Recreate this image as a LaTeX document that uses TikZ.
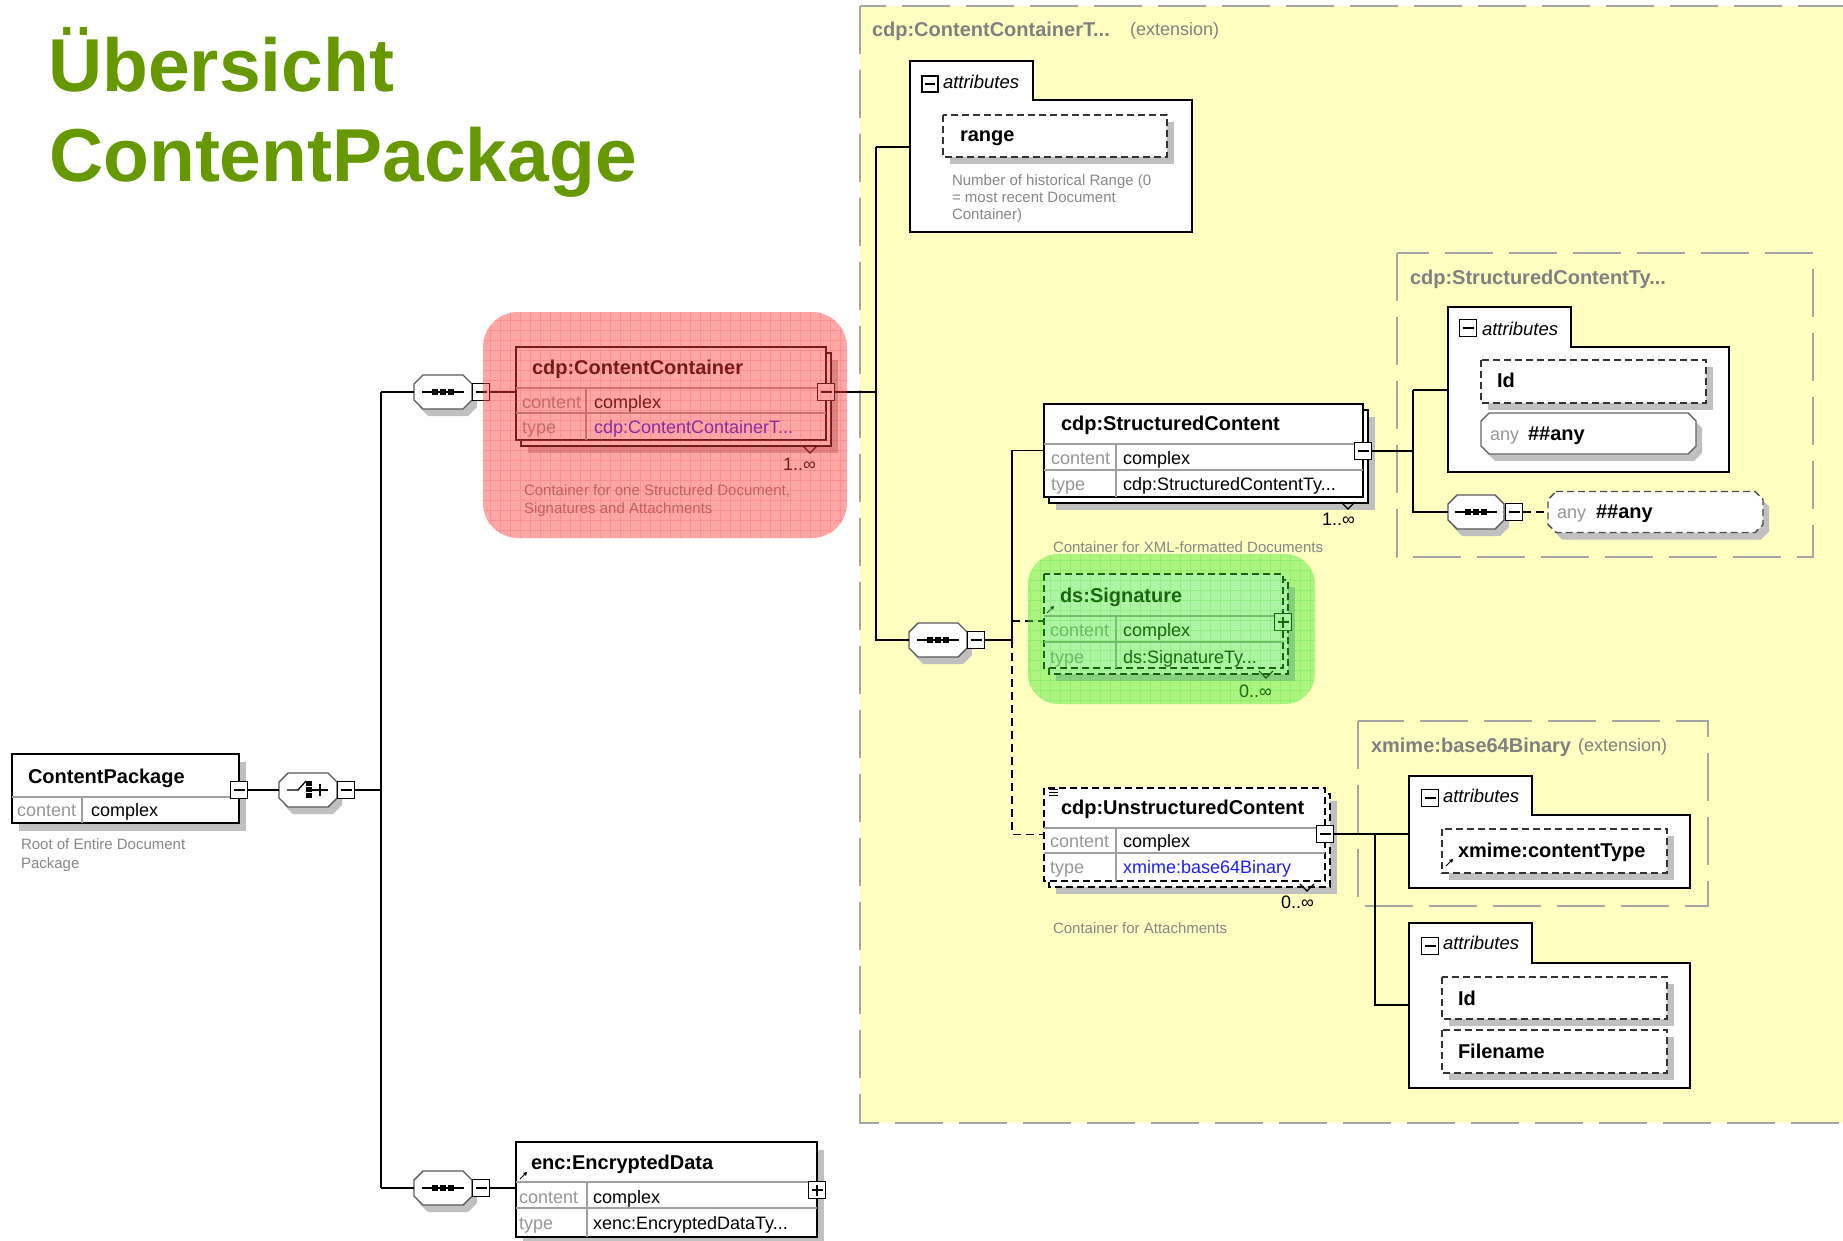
\documentclass[tikz,border=0pt]{standalone}
\usepackage{fontspec}
\setmainfont{Liberation Sans}
\usetikzlibrary{arrows.meta}

\definecolor{titlegreen}{RGB}{102,153,0}
\definecolor{paleyellow}{RGB}{255,255,194}
\definecolor{framegray}{RGB}{165,165,165}
\definecolor{labelgray}{RGB}{128,128,128}
\definecolor{keygray}{RGB}{150,150,150}
\definecolor{descgray}{RGB}{135,135,135}
\definecolor{rulegray}{RGB}{160,160,160}
\definecolor{shadowgray}{RGB}{192,192,192}
\definecolor{typeblue}{RGB}{30,30,255}
\definecolor{hired}{RGB}{255,60,60}
\definecolor{higreen}{RGB}{60,230,40}

\newcommand\fhead{\fontsize{20}{24}\selectfont\bfseries}
\newcommand\frow{\fontsize{18}{22}\selectfont}
\newcommand\fdesc{\fontsize{15}{18}\selectfont}
\newcommand\fital{\fontsize{18.5}{22}\selectfont\itshape}
\newcommand\ftitle{\fontsize{75}{90}\selectfont\bfseries}

\tikzset{
  hold/.style={anchor=north west, inner sep=0pt, outer sep=0pt, draw=none},
  octhold/.style={inner sep=0pt, outer sep=0pt, minimum width=58pt, minimum height=34pt},
  boxline/.style={line width=1.6pt, draw=black},
  optbox/.style={dash pattern=on 7pt off 4pt},
  rule/.style={line width=1.2pt, draw=rulegray},
  conn/.style={line width=1.6pt, draw=black},
  optconn/.style={conn, dash pattern=on 8pt off 5pt},
  shadowone/.style={fill=shadowgray, draw=none, transform canvas={shift={(7pt,-8pt)}}},
  shadowtwo/.style={fill=shadowgray, draw=none, transform canvas={shift={(12pt,-13pt)}}},
  stackback/.style={transform canvas={shift={(5pt,-6pt)}}},
  txt/.style={anchor=base west, inner sep=0pt, outer sep=0pt},
  head/.style={txt, font=\fhead},
  key/.style={txt, font=\frow, text=keygray},
  val/.style={txt, font=\frow},
  desc/.style={txt, font=\fdesc, text=descgray},
  attrname/.style={txt, font=\fhead},
  tabtitle/.style={txt, font=\fital},
  reglabel/.style={txt, font=\fhead, text=labelgray},
  regext/.style={txt, font=\frow, text=labelgray},
  regframe/.style={draw=framegray, line width=1.5pt, dash pattern=on 48pt off 16pt},
  mbox/.style={draw=black, fill=white, line width=1.6pt, minimum size=17pt, inner sep=0pt,
    path picture={\draw[line width=1.3pt] ([xshift=3pt]path picture bounding box.west) -- ([xshift=-3pt]path picture bounding box.east);}},
  pbox/.style={draw=black, fill=white, line width=1.6pt, minimum size=17pt, inner sep=0pt,
    path picture={\draw[line width=1.3pt] ([xshift=3pt]path picture bounding box.west) -- ([xshift=-3pt]path picture bounding box.east);
      \draw[line width=1.3pt] ([yshift=-3pt]path picture bounding box.north) -- ([yshift=3pt]path picture bounding box.south);}},
  refarrow/.style={line width=1pt, -{Triangle[length=3.5pt,width=4pt]}},
}

% octagon (chamfered box) around a holder node
\newcommand\octo[3]{%
  \path[#3] ([shift={(#2,0)}]#1.north west) -- ([shift={(-#2,0)}]#1.north east)
    -- ([shift={(0,#2)}]#1.north east) -- ([shift={(0,-#2)}]#1.south east)
    -- ([shift={(-#2,0)}]#1.south east) -- ([shift={(#2,0)}]#1.south west)
    -- ([shift={(0,-#2)}]#1.south west) -- ([shift={(0,#2)}]#1.north west) -- cycle;}

% compositor octagon with shadow
\newcommand\compositor[1]{%
  \octo{#1}{9}{fill=shadowgray, transform canvas={shift={(5pt,-7pt)}}}
  \octo{#1}{9}{fill=white, draw=black!65, line width=1.4pt}}

% sequence symbol
\newcommand\seqsym[1]{%
  \draw[line width=1.3pt] ([xshift=-21pt]#1.center) -- ([xshift=21pt]#1.center);
  \foreach \dx in {-8,0,8}
    \fill ([shift={(\dx-3,-3)}]#1.center) rectangle ([shift={(\dx+3,3)}]#1.center);}

% attribute group with a tab
\newcommand\attrtab[6]{%
  \filldraw[fill=white, boxline] (#1,#2) -- (#3,#2) -- (#3,#4) -- (#5,#4) -- (#5,#6) -- (#1,#6) -- cycle;}

% optional attribute box with shadow
\newcommand\attrbox[4]{%
  \node[hold, minimum width=#3, minimum height=#4] (#1) at #2 {};
  \fill[fill=shadowgray, transform canvas={shift={(7pt,-7pt)}}] (#1.north west) rectangle (#1.south east);
  \filldraw[fill=white, draw=black!80, line width=1.4pt, optbox] (#1.north west) rectangle (#1.south east);}

\begin{document}
\begin{tikzpicture}[x=1pt, y=-1pt, line join=miter]
\useasboundingbox (0,0) rectangle (1843,1241);
\clip (0,0) rectangle (1843,1241);
\fill[white] (0,0) rectangle (1843,1241);

% ---------- heading ----------
\node[anchor=base west, inner sep=0pt, text=titlegreen, font=\ftitle] (title1) at (48,92) {Übersicht};
\node[anchor=base west, inner sep=0pt, text=titlegreen, font=\ftitle] (title2) at (49,182) {ContentPackage};

% ---------- type regions ----------
\filldraw[fill=paleyellow, regframe] (860,6) rectangle (1900,1123);
\node[reglabel] (rlab1) at (872,37) {cdp:ContentContainerT...};
\node[regext] (rext1) at (1130,36) {(extension)};

\draw[regframe] (1397,253) rectangle (1813,557);
\node[reglabel] (rlab2) at (1410,284) {cdp:StructuredContentTy...};

\draw[regframe] (1358,721) rectangle (1708,906);
\node[reglabel] (rlab3) at (1371,752) {xmime:base64Binary};
\node[regext] (rext3) at (1578,751) {(extension)};

% ---------- holders ----------
\node[hold, minimum width=227pt, minimum height=69pt] (cp) at (12,754) {};
\node[hold, minimum width=310pt, minimum height=93pt] (cc) at (516,347) {};
\node[hold, minimum width=301pt, minimum height=95pt] (enc) at (516,1142) {};
\node[hold, minimum width=319pt, minimum height=93pt] (sc) at (1044,404) {};
\node[hold, minimum width=239pt, minimum height=94pt] (sig) at (1044,574) {};
\node[hold, minimum width=281pt, minimum height=93pt] (uc) at (1044,788) {};
\node[octhold] (ch) at (308,790) {};
\node[octhold] (s1) at (443,392) {};
\node[octhold] (s3) at (443,1188) {};
\node[octhold] (s2) at (938,640) {};
\node[octhold, minimum width=56pt] (s4) at (1476,512) {};
\node[inner sep=0pt, outer sep=0pt, minimum width=215pt, minimum height=41pt] (any1) at (1588.5,433.5) {};
\node[inner sep=0pt, outer sep=0pt, minimum width=215pt, minimum height=41pt] (any2) at (1655.5,512) {};

% ---------- ContentPackage ----------
\fill[shadowone] (cp.north west) rectangle (cp.south east);
\filldraw[fill=white, boxline] (cp.north west) rectangle (cp.south east);
\draw[rule] (12,797) -- (239,797);
\draw[rule] (82,797) -- (82,823);
\node[head] (cpt) at (28,783) {ContentPackage};
\node[key] (cpk) at (17,816) {content};
\node[val] (cpv) at (91,816) {complex};
\node[desc] (cpd1) at (21,849) {Root of Entire Document};
\node[desc] (cpd2) at (21,868) {Package};

% ---------- cdp:ContentContainer ----------
\fill[shadowtwo] (cc.north west) rectangle (cc.south east);
\filldraw[fill=white, boxline, stackback] (cc.north west) rectangle (cc.south east);
\filldraw[fill=white, boxline] (cc.north west) rectangle (cc.south east);
\draw[rule] (516,388) -- (826,388);
\draw[rule] (516,413) -- (826,413);
\draw[rule] (586,388) -- (586,440);
\node[head] (cct) at (532,374) {cdp:ContentContainer};
\node[key] (cck1) at (522,408) {content};
\node[val] (ccv1) at (594,408) {complex};
\node[key] (cck2) at (522,433) {type};
\node[val, text=typeblue] (ccv2) at (594,433) {cdp:ContentContainerT...};
\draw[line width=1.2pt] (803,446) -- (810,453) -- (817,446);
\node[val] (ccm1) at (783,470) {1..∞};
\node[desc] (ccd1) at (524,495) {Container for one Structured Document,};
\node[desc] (ccd2) at (524,513) {Signatures and Attachments};

% ---------- attributes: range ----------
\attrtab{910}{61}{1033}{100}{1192}{232}
\node[tabtitle] (tt1) at (943,89) {attributes};
\attrbox{rng}{(943,115)}{224}{42}
\node[attrname] (rngt) at (960,142) {range};
\node[desc] (rngd1) at (952,186) {Number of historical Range (0};
\node[desc] (rngd2) at (952,203) {= most recent Document};
\node[desc] (rngd3) at (952,220) {Container)};

% ---------- cdp:StructuredContent ----------
\fill[shadowtwo] (sc.north west) rectangle (sc.south east);
\filldraw[fill=white, boxline, stackback] (sc.north west) rectangle (sc.south east);
\filldraw[fill=white, boxline] (sc.north west) rectangle (sc.south east);
\draw[rule] (1044,444) -- (1363,444);
\draw[rule] (1044,470) -- (1363,470);
\draw[rule] (1116,444) -- (1116,497);
\node[head] (sct) at (1061,430) {cdp:StructuredContent};
\node[key] (sck1) at (1051,464) {content};
\node[val] (scv1) at (1123,464) {complex};
\node[key] (sck2) at (1051,490) {type};
\node[val] (scv2) at (1123,490) {cdp:StructuredContentTy...};
\draw[line width=1.2pt] (1341,502) -- (1348,509) -- (1355,502);
\node[val] (scm1) at (1322,525) {1..∞};
\node[desc] (scd) at (1053,552) {Container for XML-formatted Documents};

% ---------- attributes of StructuredContentType ----------
\attrtab{1448}{307}{1571}{347}{1729}{472}
\node[tabtitle] (tt2) at (1482,335) {attributes};
\attrbox{sid}{(1481,360)}{225}{43}
\node[attrname] (sidt) at (1497,387) {Id};
\octo{any1}{8}{fill=shadowgray, transform canvas={shift={(6pt,-7pt)}}}
\octo{any1}{8}{fill=white, draw=black!60, line width=1.4pt}
\node[key] (any1k) at (1490,440) {any};
\node[attrname] (any1v) at (1528,440) {\#\#any};
\octo{any2}{8}{fill=shadowgray, transform canvas={shift={(6pt,-7pt)}}}
\octo{any2}{8}{fill=white, draw=black!70, line width=1.4pt, optbox}
\node[key] (any2k) at (1557,518) {any};
\node[attrname] (any2v) at (1596,518) {\#\#any};

% ---------- ds:Signature ----------
\fill[shadowtwo] (sig.north west) rectangle (sig.south east);
\filldraw[fill=white, boxline, optbox, stackback] (sig.north west) rectangle (sig.south east);
\filldraw[fill=white, boxline, optbox] (sig.north west) rectangle (sig.south east);
\draw[rule] (1044,616) -- (1283,616);
\draw[rule] (1044,642) -- (1283,642);
\draw[rule] (1116,616) -- (1116,668);
\node[head] (sigt) at (1060,602) {ds:Signature};
\draw[refarrow] (1047,613) -- (1054,606);
\node[key] (sigk1) at (1050,636) {content};
\node[val] (sigv1) at (1123,636) {complex};
\node[key] (sigk2) at (1050,663) {type};
\node[val] (sigv2) at (1123,663) {ds:SignatureTy...};
\draw[line width=1.2pt] (1259,671) -- (1266,678) -- (1273,671);
\node[val] (sigm1) at (1239,697) {0..∞};

% ---------- cdp:UnstructuredContent ----------
\fill[shadowtwo] (uc.north west) rectangle (uc.south east);
\filldraw[fill=white, boxline, optbox, stackback] (uc.north west) rectangle (uc.south east);
\filldraw[fill=white, boxline, optbox] (uc.north west) rectangle (uc.south east);
\draw[rule] (1044,828) -- (1325,828);
\draw[rule] (1044,853) -- (1325,853);
\draw[rule] (1116,828) -- (1116,881);
\foreach \yy in {789,792,795} \draw[line width=0.9pt] (1049,\yy) -- (1058,\yy);
\node[head] (uct) at (1061,814) {cdp:UnstructuredContent};
\node[key] (uck1) at (1050,847) {content};
\node[val] (ucv1) at (1123,847) {complex};
\node[key] (uck2) at (1050,873) {type};
\node[val, text=typeblue] (ucv2) at (1123,873) {xmime:base64Binary};
\draw[line width=1.2pt] (1300,884) -- (1307,891) -- (1314,884);
\node[val] (ucm1) at (1281,908) {0..∞};
\node[desc] (ucd) at (1053,933) {Container for Attachments};

% ---------- attributes of xmime:base64Binary ----------
\attrtab{1409}{776}{1532}{815}{1690}{888}
\node[tabtitle] (tt3) at (1443,802) {attributes};
\attrbox{xct}{(1442,829)}{225}{44}
\node[attrname] (xctt) at (1458,857) {xmime:contentType};
\draw[refarrow] (1446,866) -- (1453,859);

% ---------- attributes of UnstructuredContent ----------
\attrtab{1409}{923}{1532}{963}{1690}{1088}
\node[tabtitle] (tt4) at (1443,949) {attributes};
\attrbox{uid}{(1442,977)}{225}{42}
\node[attrname] (uidt) at (1458,1005) {Id};
\attrbox{ufn}{(1442,1030)}{225}{43}
\node[attrname] (ufnt) at (1458,1058) {Filename};

% ---------- enc:EncryptedData ----------
\fill[shadowone] (enc.north west) rectangle (enc.south east);
\filldraw[fill=white, boxline] (enc.north west) rectangle (enc.south east);
\draw[rule] (516,1182) -- (817,1182);
\draw[rule] (516,1208) -- (817,1208);
\draw[rule] (587,1182) -- (587,1237);
\node[head] (enct) at (531,1169) {enc:EncryptedData};
\draw[refarrow] (520,1179) -- (527,1172);
\node[key] (enck1) at (519,1203) {content};
\node[val] (encv1) at (593,1203) {complex};
\node[key] (enck2) at (519,1229) {type};
\node[val] (encv2) at (593,1229) {xenc:EncryptedDataTy...};

% ---------- compositors ----------
\compositor{ch}
\draw[line width=1.3pt] ([shift={(-21,0)}]ch.center) -- ([shift={(-10,0)}]ch.center) -- ([shift={(-2,-9)}]ch.center);
\fill ([shift={(-2,-9)}]ch.center) rectangle ([shift={(4,-4)}]ch.center);
\fill ([shift={(-2,-3)}]ch.center) rectangle ([shift={(4,2)}]ch.center);
\fill ([shift={(-2,3)}]ch.center) rectangle ([shift={(4,8)}]ch.center);
\draw[line width=1.3pt] ([shift={(4,0)}]ch.center) -- ([shift={(20,0)}]ch.center);
\draw[line width=1.3pt] ([shift={(12,-6)}]ch.center) -- ([shift={(12,6)}]ch.center);
\compositor{s1}\seqsym{s1}
\compositor{s2}\seqsym{s2}
\compositor{s3}\seqsym{s3}
\compositor{s4}\seqsym{s4}

% ---------- expand / collapse buttons ----------
\node[mbox] (cpm) at (239,790) {};
\node[mbox] (chm) at (346,790) {};
\node[mbox] (s1m) at (481,392) {};
\node[mbox] (s3m) at (481,1188) {};
\node[mbox] (ccm) at (826,392) {};
\node[mbox] (s2m) at (976,640) {};
\node[mbox] (scm) at (1363,451) {};
\node[pbox] (sigp) at (1283,622) {};
\node[mbox] (ucm) at (1325,834) {};
\node[mbox] (s4m) at (1514,512) {};
\node[pbox] (encp) at (817,1190) {};
\node[mbox, minimum size=16pt] (tm1) at (930,84) {};
\node[mbox, minimum size=17pt] (tm2) at (1468,328) {};
\node[mbox, minimum size=17pt] (tm3) at (1430,798) {};
\node[mbox, minimum size=17pt] (tm4) at (1430,946) {};

% ---------- connectors ----------
\coordinate (busT) at (381,392);
\coordinate (busB) at (381,1188);
\coordinate (j1t) at (876,147);
\coordinate (j1b) at (876,640);
\coordinate (att1) at (910,147);
\coordinate (j2) at (1012,640);
\coordinate (j3t) at (1413,390);
\coordinate (j3b) at (1413,512);
\coordinate (att2) at (1448,390);
\coordinate (j4t) at (1375,834);
\coordinate (j4b) at (1375,1005);
\coordinate (att3) at (1409,834);
\coordinate (att4) at (1409,1005);

\draw[conn] (cpm.east) -- (ch.west);
\draw[conn] (chm.east) -- (chm.east -| busT);
\draw[conn] (busT) -- (busB);
\draw[conn] (busT) -- (s1.west);
\draw[conn] (s1m.east) -- (s1m.east -| cc.west);
\draw[conn] (busB) -- (s3.west);
\draw[conn] (s3m.east) -- (s3m.east -| enc.west);
\draw[conn] (ccm.east) -- (ccm.east -| j1t);
\draw[conn] (j1t) -- (j1b) -- (s2.west);
\draw[conn] (j1t) -- (att1);
\draw[conn] (s2m.east) -- (j2);
\draw[conn] (j2) -- (sc.west -| j2) -- (sc.west);
\draw[optconn] (sig.west -| j2) -- (sig.west);
\draw[optconn] (j2) -- (uc.west -| j2) -- (uc.west);
\draw[conn] (scm.east) -- (scm.east -| j3t);
\draw[conn] (j3t) -- (j3b) -- (s4.west);
\draw[conn] (j3t) -- (att2);
\draw[optconn] (s4m.east) -- (any2.west);
\draw[conn] (ucm.east) -- (j4t) -- (j4b) -- (att4);
\draw[conn] (j4t) -- (att3);

% ---------- highlights ----------
\fill[hired, opacity=0.45, rounded corners=35pt] (483,312) rectangle (847,538);
\begin{scope}
  \clip[rounded corners=35pt] (483,312) rectangle (847,538);
  \draw[hired, opacity=0.22, line width=0.7pt, step=10pt] (483,538) grid (847,312);
\end{scope}
\fill[higreen, opacity=0.42, rounded corners=30pt] (1028,554) rectangle (1315,704);
\begin{scope}
  \clip[rounded corners=30pt] (1028,554) rectangle (1315,704);
  \draw[higreen, opacity=0.25, line width=0.7pt, step=10pt] (1028,704) grid (1315,554);
\end{scope}
\end{tikzpicture}
\end{document}
